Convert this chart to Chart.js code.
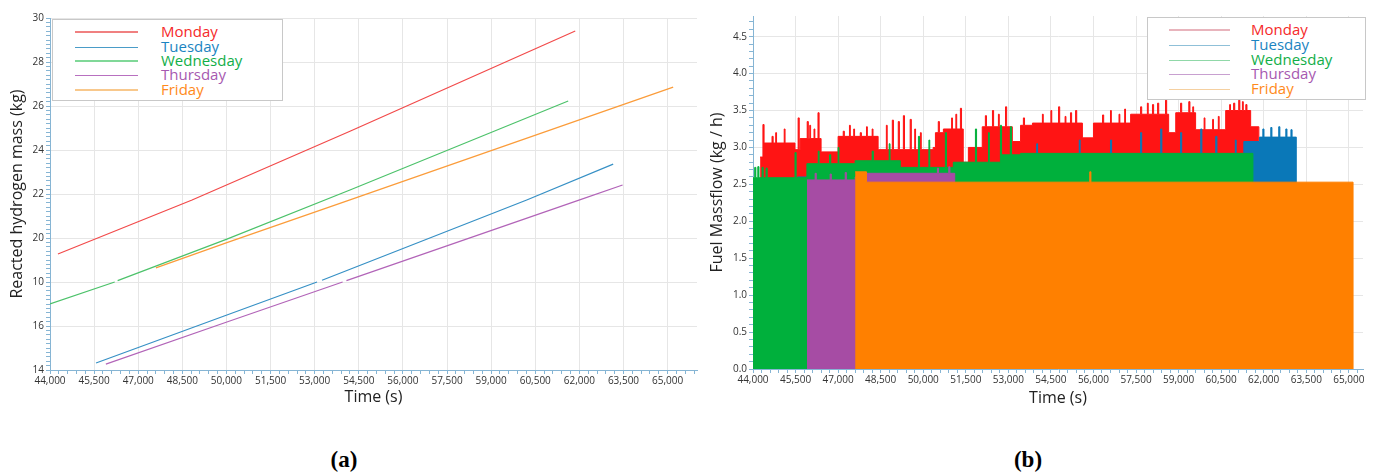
<!DOCTYPE html>
<html><head><meta charset="utf-8">
<script src="https://cdn.jsdelivr.net/npm/chart.js@4.4.1/dist/chart.umd.min.js"></script>
<style>
html,body{margin:0;padding:0;background:#fff;width:1373px;height:473px;overflow:hidden;font-family:'Open Sans',sans-serif;}
#wrapA{position:absolute;left:0;top:0;width:700px;height:420px;}
#wrapB{position:absolute;left:690px;top:0;width:683px;height:420px;}
.legend{position:absolute;border:1px solid #c8c8c8;background:#fff;box-sizing:border-box;}
.sw{position:absolute;}
.lbl{position:absolute;font-size:15px;line-height:16px;white-space:nowrap;font-family:'Open Sans',sans-serif;}
.cap{position:absolute;font-family:'Liberation Serif',serif;font-weight:bold;font-size:23px;line-height:26px;width:60px;text-align:center;color:#000;}
</style></head>
<body>
<div id="wrapA"><canvas id="chartA" width="700" height="420"></canvas></div>
<div id="wrapB"><canvas id="chartB" width="683" height="420"></canvas></div>
<div id="legA" class="legend"></div>
<div id="legB" class="legend"></div>
<div class="cap" style="left:314px;top:447px;">(a)</div>
<div class="cap" style="left:998px;top:447px;">(b)</div>
<script>
// ---------- categories ----------
const days = ['Monday','Tuesday','Wednesday','Thursday','Friday'];

// ---------- tick labels ----------
const xTickLabels = ['44,000','45,500','47,000','48,500','50,000','51,500','53,000','54,500','56,000','57,500','59,000','60,500','62,000','63,500','65,000'];
const yTickLabelsA = ['14','16','10','20','22','24','26','28','30'];
const yTickValuesA = [14,16,18,20,22,24,26,28,30];
const yTickLabelsB = ['0.0','0.5','1.0','1.5','2.0','2.5','3.0','3.5','4.0','4.5'];
const yTickValuesB = [0,0.5,1,1.5,2,2.5,3,3.5,4,4.5];

// ---------- (a) Reacted hydrogen mass (kg) vs time (s) ----------
const monA_t = [44270, 48830, 54200, 61860];
const monA_v = [19.27, 21.73, 24.85, 29.41];
const tueA_t = [45565, 50015, 53080, 53165, 53250, 60210, 63150];
const tueA_v = [14.32, 16.5, 18.0, null, 18.08, 21.73, 23.36];
const wedA_t = [44000, 46200, 46250, 46300, 50015, 54200, 61620];
const wedA_v = [17.0, 18.0, null, 18.06, 19.95, 22.18, 26.23];
const thuA_t = [45900, 50015, 53950, 54010, 54080, 62010, 63470];
const thuA_v = [14.27, 16.18, 18.0, null, 18.06, 21.73, 22.41];
const friA_t = [47600, 50015, 54200, 65190];
const friA_v = [18.64, 19.79, 21.73, 26.86];

// ---------- (b) Fuel massflow (kg/h) vs time (s) ----------
const monB_t = [
  44250,44350,44390,44670,44710,44800,44830,45100,45130,45480,
  45590,45630,45660,45910,45950,46000,46030,46150,46180,46290,
  46330,46400,47000,47180,47220,47400,47430,47550,47580,47780,
  47820,48000,48030,48200,48230,48410,48700,48730,48910,48950,
  49120,49160,49300,49340,49540,49580,49700,49730,49900,49930,
  50350,50430,50530,50570,50710,51000,51030,51150,51180,51310,
  51350,51410,51590,52080,52190,52230,52440,52480,52650,52680,
  52900,52940,53140,53430,53530,53570,53850,54200,54230,54500,
  54530,54770,54810,55000,55030,55190,55230,55370,55410,55610,
  56000,56320,56360,56600,56630,56900,56930,57100,57130,57310,
  57660,57700,57900,57930,58080,58120,58260,58300,58540,58580,
  58650,58900,59070,59110,59360,59400,59500,59530,59600,59900,
  59930,60200,60230,60400,60430,60660,60800,60830,60940,60980,
  61120,61160,61250,61280,61370,61410,61540,61830];
const monB_v = [
  2.87,3.31,3.06,3.15,3.06,3.2,3.06,3.25,3.06,2.97,
  3.4,2.97,3.12,3.35,3.12,3.3,3.12,3.25,3.12,3.47,
  3.12,2.94,3.15,3.22,3.15,3.3,3.15,3.25,3.15,3.2,
  3.15,3.28,3.15,3.25,3.15,2.97,3.3,2.97,3.37,2.97,
  3.35,2.97,3.43,2.97,3.38,2.97,3.25,2.97,3.2,2.97,
  3.0,3.2,3.35,3.2,3.25,3.4,3.25,3.45,3.25,3.53,
  3.25,2.8,3.0,3.28,3.43,3.28,3.5,3.28,3.45,3.28,
  3.55,3.28,3.08,3.3,3.4,3.3,3.33,3.45,3.33,3.5,
  3.33,3.55,3.33,3.42,3.33,3.47,3.33,3.5,3.33,3.13,
  3.33,3.44,3.33,3.5,3.33,3.45,3.33,3.52,3.33,3.45,
  3.55,3.45,3.6,3.45,3.58,3.45,3.6,3.45,3.64,3.45,
  3.2,3.47,3.6,3.47,3.62,3.47,3.55,3.47,3.24,3.4,
  3.24,3.38,3.24,3.42,3.24,3.5,3.58,3.5,3.6,3.5,
  3.64,3.5,3.62,3.5,3.58,3.5,3.28,0];
const tueB_t = [45565,53430,54000,54030,55500,55530,56600,56640,57660,57700,58370,58410,59070,59110,59780,59820,60310,60350,61000,61030,61300,61850,61970,62010,62250,62290,62530,62570,62780,62820,62960,63000,63150];
const tueB_v = [2.6,2.9,3.05,2.9,3.1,2.9,3.1,2.9,3.2,2.9,3.25,2.9,3.2,2.9,3.25,2.9,3.15,2.9,3.1,2.9,3.08,3.14,3.25,3.14,3.27,3.14,3.28,3.14,3.25,3.14,3.24,3.14,0];
const wedB_t = [44000,44060,44100,44170,44210,44320,44360,44460,44500,45480,45520,45900,46300,46330,46700,46740,47000,47030,47600,48200,48240,48800,48830,49190,49830,49870,50200,50230,50780,50820,51060,51840,51880,52300,52330,52720,52760,53070,53110,53430,61620];
const wedB_v = [2.59,2.73,2.59,2.74,2.59,2.73,2.59,2.72,2.59,2.93,2.59,2.78,2.95,2.78,2.9,2.78,3.0,2.78,2.82,2.95,2.82,3.05,2.82,2.73,3.15,2.73,3.1,2.73,3.2,2.73,2.8,3.25,2.8,3.2,2.8,3.3,2.9,3.28,2.9,2.92,0];
const thuB_t = [45900,46190,46230,46720,46760,47250,47290,47600,48000,50500,50540,50900,50940,51110,63470];
const thuB_v = [2.56,2.65,2.56,2.64,2.56,2.66,2.56,2.6,2.65,2.72,2.65,2.74,2.65,2.45,0];
const friB_t = [47600,48000,55870,55910,65150];
const friB_v = [2.67,2.53,2.67,2.53,0];

// ---------- styling ----------
const lineColorsA = ['#f24a4a','#3690c5','#4cc26a','#b264b8','#fb9c3a'];
const fillColorsB = ['#ff1414','#0a78b8','#00b03c','#a64ca4','#ff8000'];
const legendTextColors = ['#f52a2a','#1b84c1','#12ae48','#a659b0','#ff8a1a'];
const legendLineA = [['#f08080',2],['#4a9cc8',1],['#80d898',2.5],['#b870c0',1],['#f8c88c',2.5]];
const legendLineB = [['#e8b4bc',2.5],['#8fc0d8',1],['#90d8a8',1],['#c8a0d0',1],['#f5d0a0',1]];
const axisBlue = '#86b5d4';
const gridGray = '#e6e6e6';
const tickFont = {family:"'Open Sans', sans-serif", size:10};
const titleFont = {family:"'Open Sans', sans-serif", size:16};

function pts(ts, vs){ return ts.map((t,i)=>({x:t, y:vs[i]})); }
function near(a,b){ return Math.abs(a-b) < 1e-6; }
function rangeTicks(start, end, step){ const out=[]; for(let i=0;;i++){ const v=+(start+i*step).toFixed(6); if(v>end+1e-9) break; out.push(v);} return out; }
const xMajor = xTickLabels.map(s=>parseInt(s.replace(/,/g,''),10));
function labelFor(v, majors, labels){ const i = majors.findIndex(m=>near(m,v)); return i>=0 ? labels[i] : ''; }
function isMajor(v, majors){ return majors.some(m=>near(m,v)); }

function xAxis(min, max, height, titlePadBottom){
  const ticks = rangeTicks(44000, max, 300);
  return {
    type:'linear', min:min, max:max,
    afterBuildTicks: s => { s.ticks = ticks.map(v=>({value:v})); },
    afterFit: s => { s.height = height; },
    ticks:{autoSkip:false, maxRotation:0, minRotation:0, font:tickFont, color:'#333', padding:1,
      callback: v => labelFor(v, xMajor, xTickLabels)},
    grid:{color: c => (c.tick && isMajor(c.tick.value, xMajor)) ? gridGray : 'rgba(0,0,0,0)', tickColor: axisBlue, tickLength:4},
    border:{color:axisBlue, width:1},
    title:{display:true, text:'Time (s)', font:titleFont, color:'#222', padding:{top:0, bottom:titlePadBottom}}
  };
}
function yAxis(min, max, minorStep, majors, labels, width, title, titlePadTop){
  const ticks = rangeTicks(min, max, minorStep);
  return {
    type:'linear', min:min, max:max,
    afterBuildTicks: s => { s.ticks = ticks.map(v=>({value:v})); },
    afterFit: s => { s.width = width; },
    ticks:{autoSkip:false, font:tickFont, color:'#333', padding:2,
      callback: v => labelFor(v, majors, labels)},
    grid:{color: c => (c.tick && isMajor(c.tick.value, majors)) ? gridGray : 'rgba(0,0,0,0)', tickColor: axisBlue, tickLength:4},
    border:{color:axisBlue, width:1},
    title:{display:true, text:title, font:titleFont, color:'#222', padding:{top:titlePadTop, bottom:0}}
  };
}

const commonPlugins = {legend:{display:false}, tooltip:{enabled:false}};

// ---------- chart (a) ----------
const seriesA = [[monA_t,monA_v],[tueA_t,tueA_v],[wedA_t,wedA_v],[thuA_t,thuA_v],[friA_t,friA_v]];
new Chart(document.getElementById('chartA'), {
  type:'line',
  data:{ datasets: seriesA.map((s,i)=>({
    label: days[i], data: pts(s[0], s[1]), borderColor: lineColorsA[i], borderWidth:1.2,
    pointRadius:0, tension:0, spanGaps:false, fill:false
  }))},
  options:{
    responsive:false, animation:false, devicePixelRatio:1,
    layout:{padding:{top:18, right:3, left:0, bottom:0}},
    plugins: commonPlugins,
    scales:{
      x: xAxis(44000, 66000, 50, 13),
      y: yAxis(14, 30, 0.2, yTickValuesA, yTickLabelsA, 50, 'Reacted hydrogen mass (kg)', 8)
    }
  }
});

// ---------- chart (b) ----------
const seriesB = [[monB_t,monB_v],[tueB_t,tueB_v],[wedB_t,wedB_v],[thuB_t,thuB_v],[friB_t,friB_v]];
new Chart(document.getElementById('chartB'), {
  type:'line',
  data:{ datasets: seriesB.map((s,i)=>({
    label: days[i], data: pts(s[0], s[1]), borderColor: fillColorsB[i], backgroundColor: fillColorsB[i],
    borderWidth:1, pointRadius:0, tension:0, stepped:true, fill:'origin', order: 5-i
  }))},
  options:{
    responsive:false, animation:false, devicePixelRatio:1,
    layout:{padding:{top:16, right:10, left:0, bottom:0}},
    plugins: commonPlugins,
    scales:{
      x: xAxis(44000, 65500, 51, 12),
      y: yAxis(0, 4.78, 0.1, yTickValuesB, yTickLabelsB, 63, 'Fuel Massflow (kg / h)', 18)
    }
  }
});

// ---------- legends (HTML, real text) ----------
function buildLegend(id, box, lx0, lx1, tx, rows, lineStyles){
  const el = document.getElementById(id);
  el.style.left = box[0]+'px'; el.style.top = box[1]+'px';
  el.style.width = (box[2]-box[0])+'px'; el.style.height = (box[3]-box[1])+'px';
  days.forEach((d,i)=>{
    const ln = document.createElement('div'); ln.className='sw';
    const w = lineStyles[i][1];
    ln.style.left = (lx0-box[0])+'px'; ln.style.width=(lx1-lx0)+'px';
    ln.style.top = (rows[i]-box[1]-w/2)+'px'; ln.style.height = w+'px';
    ln.style.background = lineStyles[i][0];
    el.appendChild(ln);
    const t = document.createElement('div'); t.className='lbl';
    t.style.left = (tx-box[0])+'px'; t.style.top=(rows[i]-box[1]-9)+'px';
    t.style.color = legendTextColors[i]; t.textContent = d;
    el.appendChild(t);
  });
}
buildLegend('legA', [52,19,283,101], 74, 137, 160, [31,46,60,74,89], legendLineA);
buildLegend('legB', [1147,17,1366,100], 1168, 1229, 1250, [29,44,59,73,88], legendLineB);
</script>
</body></html>
